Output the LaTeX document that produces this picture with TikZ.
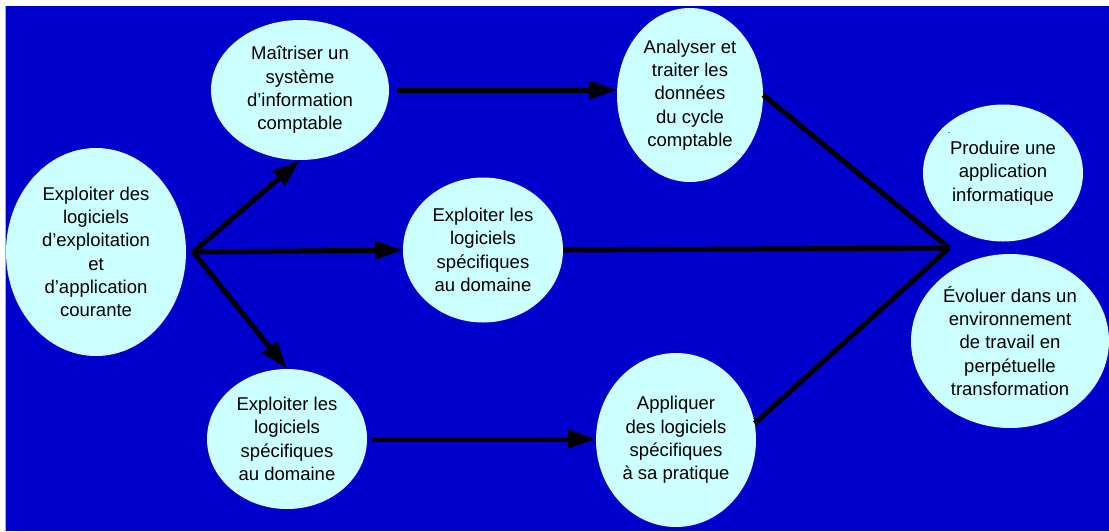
\documentclass[tikz,border=0pt]{standalone}
\usepackage{fontspec}
\setmainfont{Liberation Sans}
\usetikzlibrary{arrows.meta, shapes.geometric}
\definecolor{fond}{HTML}{0000CC}
\definecolor{ciel}{HTML}{CCFFFF}
\definecolor{filet}{HTML}{C8C800}

\begin{document}
\begin{tikzpicture}[x=1pt, y=-1pt,
    bulle/.style={ellipse, fill=ciel, inner sep=0pt, align=center,
      font=\fontsize{18.5}{23.3}\selectfont},
    fleche/.style={line width=5pt, -{Triangle[length=28pt,width=18pt]}},
    trait/.style={line width=5pt}]
  \useasboundingbox (0,0) rectangle (1109,531);
  \fill[fond] (6,6) rectangle (1109,531); % Le fond
  \draw[filet, line width=1pt] (5.5,6) -- (5.5,531);

  % Les bulles
  \node[bulle, minimum width=180pt, minimum height=208pt] at (96,252) (exploitation)
      {Exploiter des\\logiciels\\d’exploitation\\et\\d’application\\courante};
  \node[bulle, minimum width=178pt, minimum height=140pt] at (300,90) (maitriser)
      {Maîtriser un\\système\\d’information\\comptable};
  \node[bulle, minimum width=160pt, minimum height=145pt] at (483,250) (specifiques)
      {Exploiter les\\logiciels\\spécifiques\\au domaine};
  \node[bulle, minimum width=160pt, minimum height=140pt] at (287,439) (domaine)
      {Exploiter les\\logiciels\\spécifiques\\au domaine};
  \node[bulle, minimum width=146pt, minimum height=174pt] at (690,95) (analyser)
      {Analyser et\\traiter les\\données\\du cycle\\comptable};
  \node[bulle, minimum width=160pt, minimum height=174pt] at (676,440) (appliquer)
      {Appliquer\\des logiciels\\spécifiques\\à sa pratique};
  \node[bulle, minimum width=160pt, minimum height=137pt] at (1003,173) (produire)
      {Produire une\\application\\informatique};
  \node[bulle, minimum width=198pt, minimum height=174pt] at (1010,341) (evoluer)
      {Évoluer dans un\\environnement\\de travail en\\perpétuelle\\transformation};
  \node[font=\fontsize{9}{9}\selectfont, inner sep=0pt] at (955,95) (point1) {.};
  \node[font=\fontsize{9}{9}\selectfont, inner sep=0pt] at (949,133) (point2) {.};

  % Les fleches
  \coordinate (depart) at ([xshift=7pt]exploitation.east);
  \draw[fleche] (depart) -- (maitriser.south);
  \draw[fleche] (depart) -- (specifiques.west);
  \draw[fleche] (depart) -- (domaine.north);
  \draw[fleche, shorten <=8pt] (maitriser.east) -- (maitriser.east -| analyser.west);
  \draw[fleche, shorten <=5pt] (domaine.east) -- (domaine.east -| appliquer.west);

  % Les traits vers la droite
  \coordinate (jonction) at (949,248);
  \draw[trait] (analyser.east) -- (jonction);
  \draw[trait] (specifiques.east) -- (jonction);
  \draw[trait] (appliquer.12) -- (jonction);
\end{tikzpicture}
\end{document}
